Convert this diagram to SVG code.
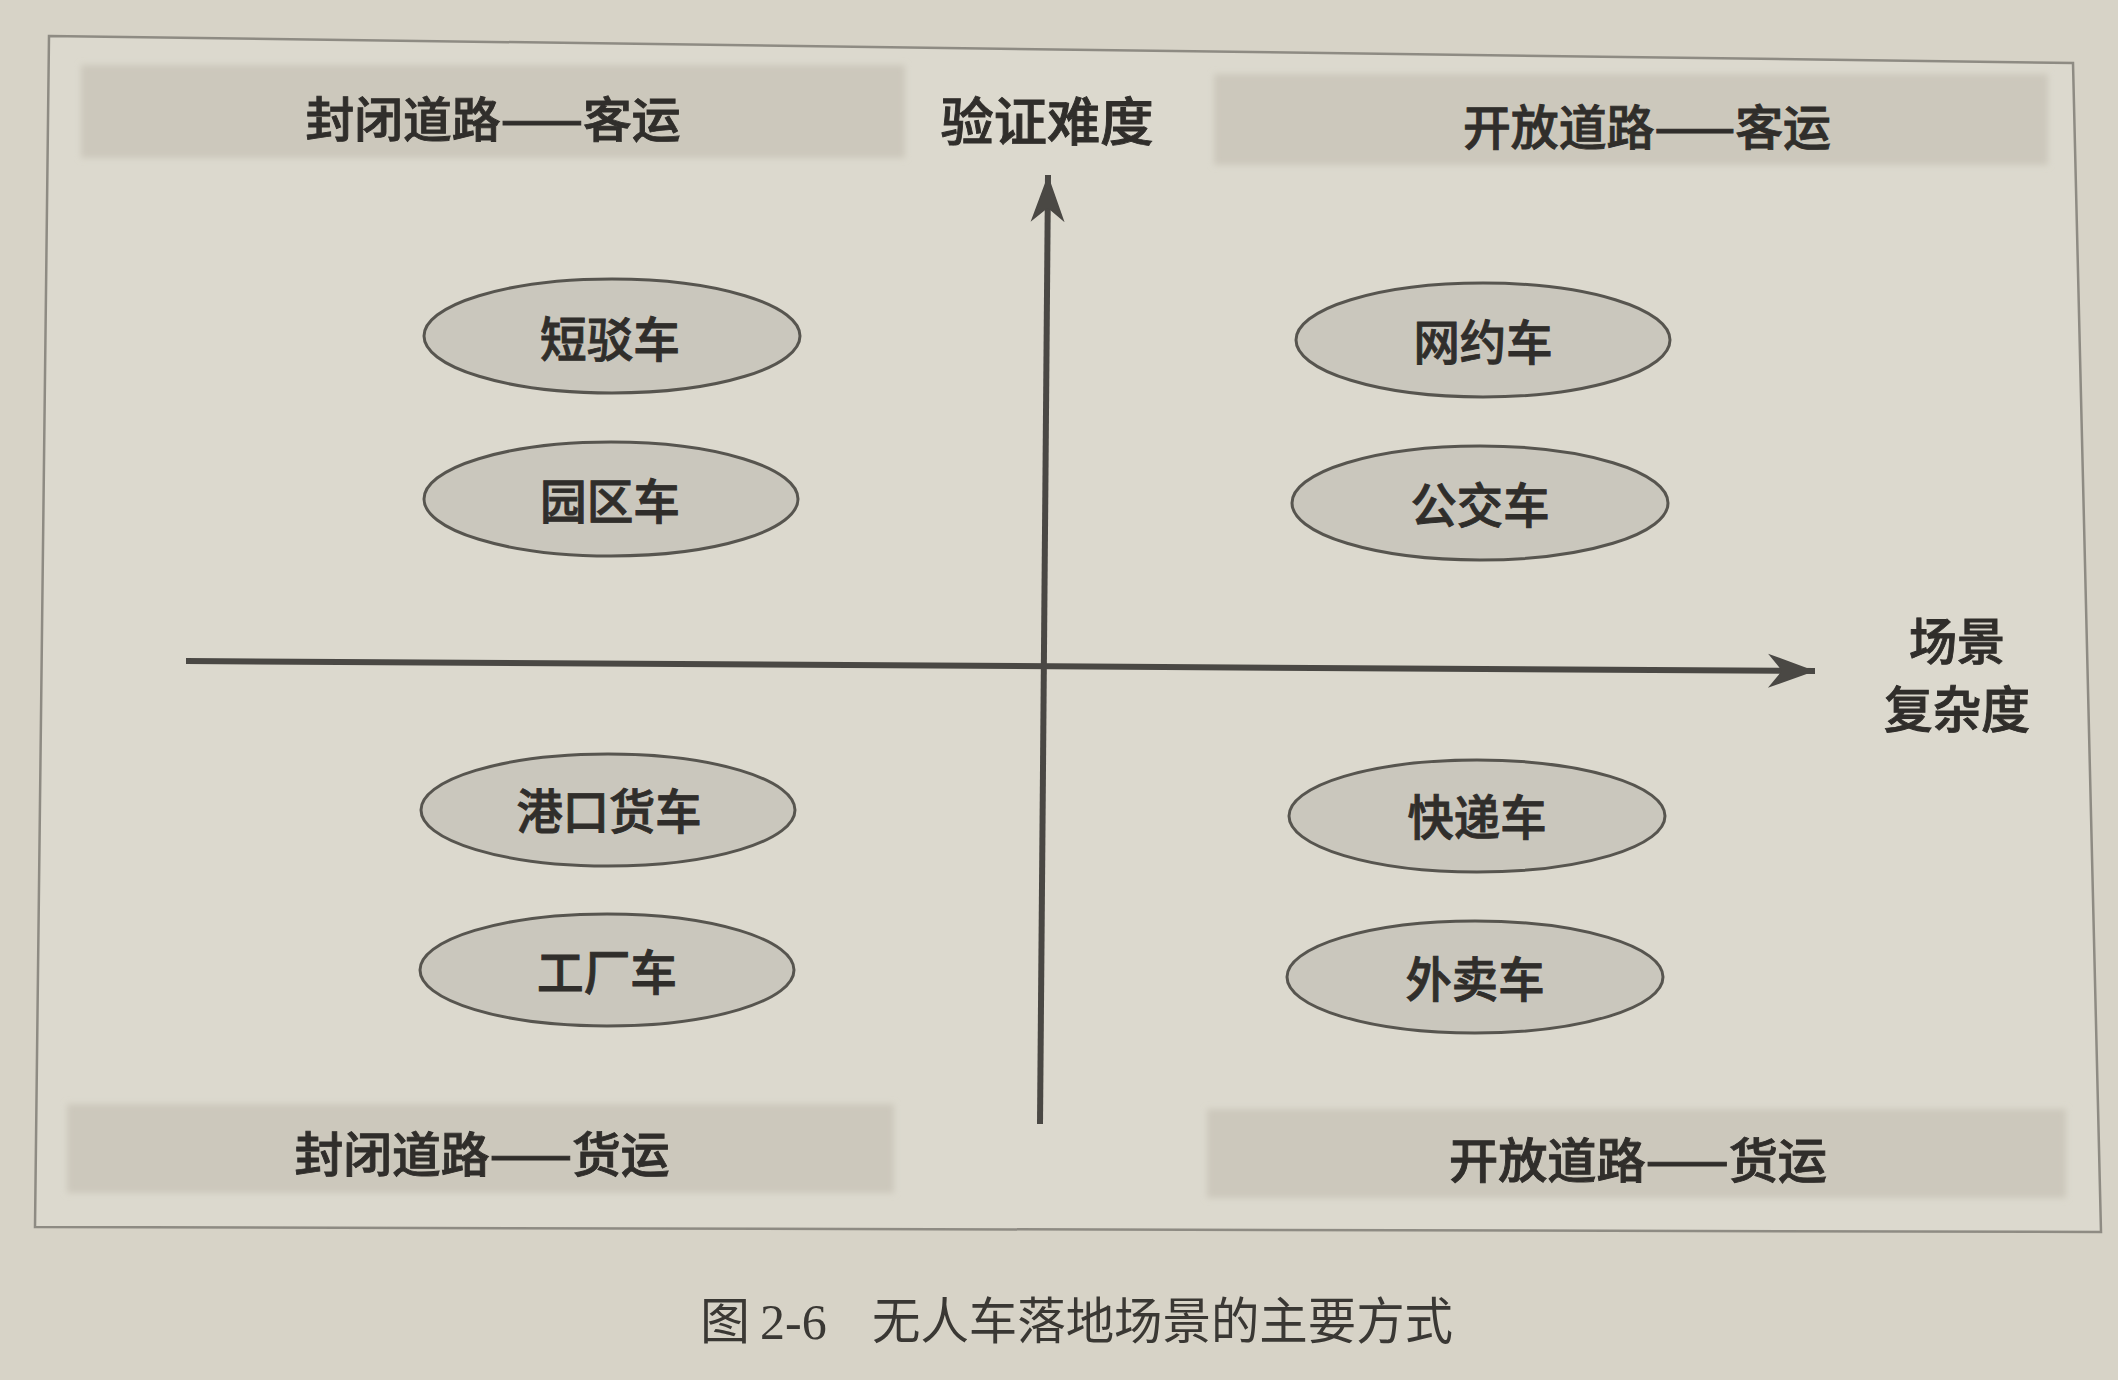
<svg xmlns="http://www.w3.org/2000/svg" width="2118" height="1380" viewBox="0 0 2118 1380">
  <defs>
    <filter id="soft" x="-5%" y="-20%" width="110%" height="140%">
      <feGaussianBlur stdDeviation="3"/>
    </filter>
    <marker id="arrow" markerUnits="userSpaceOnUse" markerWidth="52" markerHeight="40" viewBox="-48 -20 50 40" refX="0" refY="0" orient="auto">
      <path d="M0,0 L-47,-17 L-33,0 L-47,17 Z" fill="#4a4844"/>
    </marker>
  </defs>
  <style>
    .bar { fill: #ccc8bc; }
    .lbl { font-family: "Noto Sans CJK SC", "Liberation Sans", sans-serif; font-weight: 500; fill: #302e2b; stroke: #302e2b; stroke-width: 0.9; text-anchor: middle; }
    .node ellipse { fill: #cac7bd; stroke: #57554f; stroke-width: 3; }
    .node text { font-family: "Noto Sans CJK SC", "Liberation Sans", sans-serif; font-weight: 500; font-size: 48px; fill: #302e2b; stroke: #302e2b; stroke-width: 0.9; text-anchor: middle; }
    .axis { stroke: #4a4844; stroke-width: 6; fill: none; }
    .cap { font-family: "Liberation Serif", "Noto Sans CJK SC", serif; font-size: 50px; fill: #3a3834; }
  </style>

  <rect x="0" y="0" width="2118" height="1380" fill="#d7d3c7"/>
  <polygon points="49,36 2073,63 2101,1232 35,1227" fill="#dcd9ce" stroke="#8e8b83" stroke-width="2.5"/>

  <g id="bars" filter="url(#soft)">
    <rect class="bar" x="81" y="65" width="824" height="93"/>
    <rect class="bar" x="1214" y="74" width="834" height="91"/>
    <rect class="bar" x="67" y="1104" width="827" height="89"/>
    <rect class="bar" x="1207" y="1109" width="859" height="89"/>
  </g>

  <g id="quadrant-labels">
    <text class="lbl" x="493" y="137" font-size="48" textLength="375" lengthAdjust="spacingAndGlyphs">封闭道路——客运</text>
    <text class="lbl" x="1647" y="145" font-size="48" textLength="368" lengthAdjust="spacingAndGlyphs">开放道路——客运</text>
    <text class="lbl" x="482" y="1172" font-size="48" textLength="375" lengthAdjust="spacingAndGlyphs">封闭道路——货运</text>
    <text class="lbl" x="1638" y="1178" font-size="48" textLength="378" lengthAdjust="spacingAndGlyphs">开放道路——货运</text>
  </g>

  <g id="axis-labels">
    <text class="lbl" x="1047" y="141" font-size="52" textLength="213" lengthAdjust="spacingAndGlyphs">验证难度</text>
    <text class="lbl" x="1957" y="660" font-size="50" textLength="96" lengthAdjust="spacingAndGlyphs">场景</text>
    <text class="lbl" x="1957" y="728" font-size="50" textLength="146" lengthAdjust="spacingAndGlyphs">复杂度</text>
  </g>

  <g id="connectors">
    <line class="axis" x1="1040" y1="1124" x2="1048" y2="175" marker-end="url(#arrow)"/>
    <line class="axis" x1="186" y1="661" x2="1815" y2="671" marker-end="url(#arrow)"/>
  </g>

  <g id="node-duanbo" class="node">
    <ellipse cx="612" cy="336" rx="188" ry="57"/>
    <text x="610" y="357" textLength="140" lengthAdjust="spacingAndGlyphs">短驳车</text>
  </g>
  <g id="node-yuanqu" class="node">
    <ellipse cx="611" cy="499" rx="187" ry="57"/>
    <text x="610" y="519" textLength="140" lengthAdjust="spacingAndGlyphs">园区车</text>
  </g>
  <g id="node-gangkou" class="node">
    <ellipse cx="608" cy="810" rx="187" ry="56"/>
    <text x="609" y="829" textLength="185" lengthAdjust="spacingAndGlyphs">港口货车</text>
  </g>
  <g id="node-gongchang" class="node">
    <ellipse cx="607" cy="970" rx="187" ry="56"/>
    <text x="607" y="990" textLength="140" lengthAdjust="spacingAndGlyphs">工厂车</text>
  </g>
  <g id="node-wangyue" class="node">
    <ellipse cx="1483" cy="340" rx="187" ry="57"/>
    <text x="1483" y="360" textLength="139" lengthAdjust="spacingAndGlyphs">网约车</text>
  </g>
  <g id="node-gongjiao" class="node">
    <ellipse cx="1480" cy="503" rx="188" ry="57"/>
    <text x="1480" y="523" textLength="139" lengthAdjust="spacingAndGlyphs">公交车</text>
  </g>
  <g id="node-kuaidi" class="node">
    <ellipse cx="1477" cy="816" rx="188" ry="56"/>
    <text x="1477" y="835" textLength="139" lengthAdjust="spacingAndGlyphs">快递车</text>
  </g>
  <g id="node-waimai" class="node">
    <ellipse cx="1475" cy="977" rx="188" ry="56"/>
    <text x="1475" y="997" textLength="139" lengthAdjust="spacingAndGlyphs">外卖车</text>
  </g>

  <g id="caption">
    <text class="cap" x="700" y="1339">图</text>
    <text class="cap" x="760" y="1339">2-6</text>
    <text class="cap" x="872" y="1339" textLength="581" lengthAdjust="spacingAndGlyphs">无人车落地场景的主要方式</text>
  </g>
</svg>
